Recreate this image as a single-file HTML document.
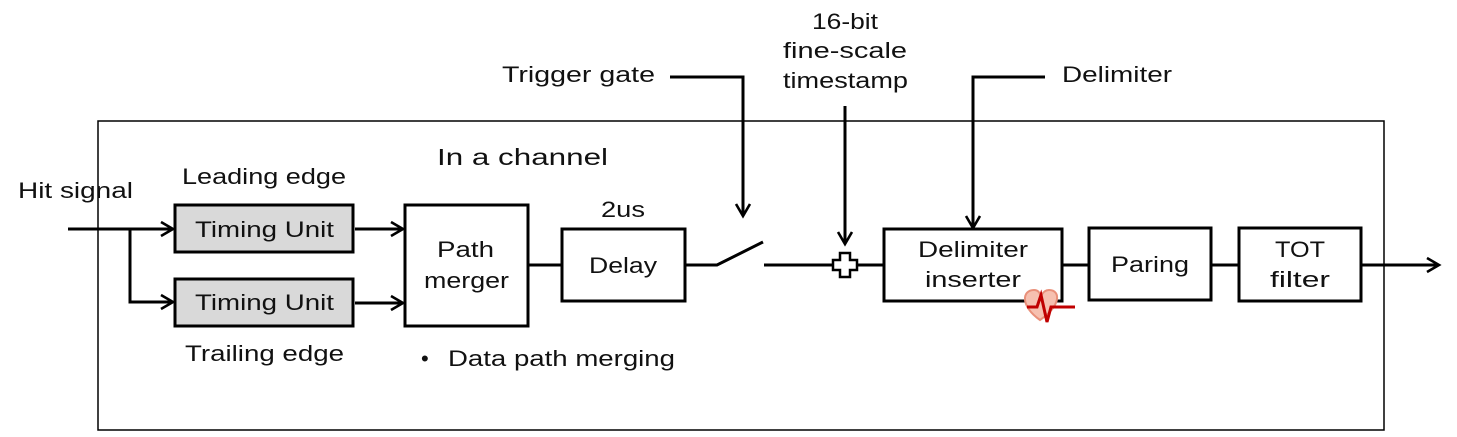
<!DOCTYPE html>
<html><head><meta charset="utf-8"><style>
html,body{margin:0;padding:0;background:#fff;}
svg text{font-family:"Liberation Sans",sans-serif;font-size:22px;fill:#111;}
</style></head><body>
<svg width="1457" height="432" viewBox="0 0 1457 432" xmlns="http://www.w3.org/2000/svg">
<defs>
<marker id="a" markerWidth="18" markerHeight="18" refX="15" refY="9" orient="auto" markerUnits="userSpaceOnUse">
<path d="M3,2 L15,9 L3,16" fill="none" stroke="#000" stroke-width="2.6"/>
</marker>
</defs>
<rect x="98" y="121" width="1286" height="309" fill="none" stroke="#000" stroke-width="1.5"/>
<g stroke="#000" stroke-width="3" fill="none">
<path d="M68,229 H173" marker-end="url(#a)"/>
<path d="M130,229 V302 H173" marker-end="url(#a)"/>
<path d="M355,229 H403" marker-end="url(#a)"/>
<path d="M355,303 H403" marker-end="url(#a)"/>
<path d="M528,265 H562"/>
<path d="M685,265 H717 L763,242"/>
<path d="M764,265 H884"/>
<path d="M1062,265 H1089"/>
<path d="M1211,265 H1239"/>
<path d="M1361,265 H1439" marker-end="url(#a)"/>
<path d="M670,77 H743 V216" marker-end="url(#a)"/>
<path d="M845,106 V244" marker-end="url(#a)"/>
<path d="M1045,77 H973 V228" marker-end="url(#a)"/>
</g>
<rect x="175" y="205" width="178" height="47" fill="#d9d9d9" stroke="#000" stroke-width="3"/>
<rect x="175" y="279" width="178" height="47" fill="#d9d9d9" stroke="#000" stroke-width="3"/>
<rect x="405" y="205" width="123" height="121" fill="#fff" stroke="#000" stroke-width="3"/>
<rect x="562" y="229" width="123" height="72" fill="#fff" stroke="#000" stroke-width="3"/>
<rect x="884" y="229" width="178" height="72" fill="#fff" stroke="#000" stroke-width="3"/>
<rect x="1089" y="228" width="122" height="72" fill="#fff" stroke="#000" stroke-width="3"/>
<rect x="1239" y="228" width="122" height="73" fill="#fff" stroke="#000" stroke-width="3"/>
<path d="M840,253 h10 v7 h7 v10 h-7 v7 h-10 v-7 h-7 v-10 h7 z" fill="#fff" stroke="#000" stroke-width="2.5"/>
<path d="M1040,320 C1020,306 1022,290 1034,290 C1039,290 1040,294 1041,296 C1042,294 1044,290 1049,290 C1061,290 1061,306 1040,320 Z" fill="#f6c0b0" stroke="#e9907a" stroke-width="2"/>
<path d="M1027,307 H1037 L1041,295 L1047,322 L1051,307 H1075" fill="none" stroke="#c00000" stroke-width="3"/>
<text x="18" y="198" textLength="115" lengthAdjust="spacingAndGlyphs">Hit signal</text>
<text x="182" y="184" textLength="164" lengthAdjust="spacingAndGlyphs">Leading edge</text>
<text x="185" y="361" textLength="159" lengthAdjust="spacingAndGlyphs">Trailing edge</text>
<text x="195" y="237" textLength="139" lengthAdjust="spacingAndGlyphs">Timing Unit</text>
<text x="195" y="310" textLength="139" lengthAdjust="spacingAndGlyphs">Timing Unit</text>
<text x="437" y="257" textLength="57" lengthAdjust="spacingAndGlyphs">Path</text>
<text x="424" y="288" textLength="85" lengthAdjust="spacingAndGlyphs">merger</text>
<text x="601" y="217" textLength="44" lengthAdjust="spacingAndGlyphs">2us</text>
<text x="589" y="273" textLength="68" lengthAdjust="spacingAndGlyphs">Delay</text>
<text x="437" y="165" style="font-size:23px" textLength="171" lengthAdjust="spacingAndGlyphs">In a channel</text>
<text x="421" y="366">•</text>
<text x="448" y="366" textLength="227" lengthAdjust="spacingAndGlyphs">Data path merging</text>
<text x="502" y="82" textLength="153" lengthAdjust="spacingAndGlyphs">Trigger gate</text>
<text x="812" y="29" textLength="66" lengthAdjust="spacingAndGlyphs">16-bit</text>
<text x="783" y="58" textLength="124" lengthAdjust="spacingAndGlyphs">fine-scale</text>
<text x="783" y="88" textLength="125" lengthAdjust="spacingAndGlyphs">timestamp</text>
<text x="1062" y="82" textLength="110" lengthAdjust="spacingAndGlyphs">Delimiter</text>
<text x="918" y="257" textLength="110" lengthAdjust="spacingAndGlyphs">Delimiter</text>
<text x="925" y="287" textLength="96" lengthAdjust="spacingAndGlyphs">inserter</text>
<text x="1111" y="272" textLength="78" lengthAdjust="spacingAndGlyphs">Paring</text>
<text x="1275" y="257" textLength="50" lengthAdjust="spacingAndGlyphs">TOT</text>
<text x="1270" y="287" textLength="60" lengthAdjust="spacingAndGlyphs">filter</text>
</svg>
</body></html>
